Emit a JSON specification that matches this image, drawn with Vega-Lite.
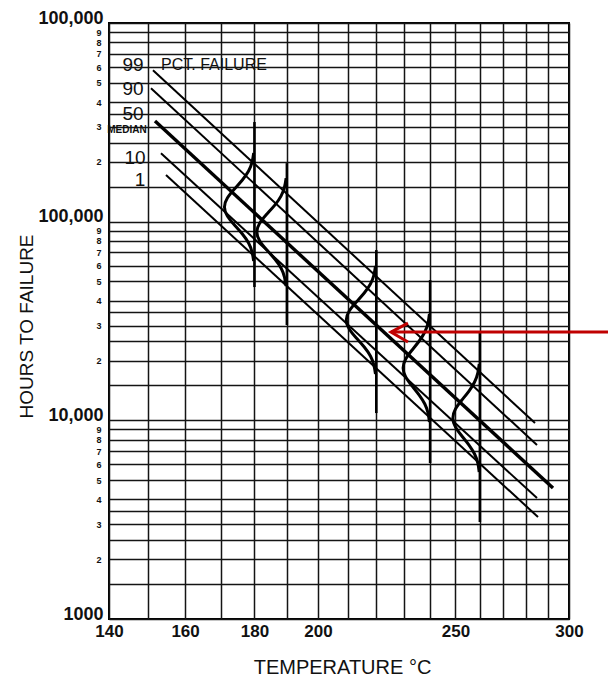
{
  "$schema": "https://vega.github.io/schema/vega-lite/v6.json",
  "width": 460,
  "height": 596,
  "autosize": {"type": "none"},
  "padding": {"left": 109, "top": 23, "right": 39, "bottom": 58},
  "background": "white",
  "config": {"view": {"stroke": "#000", "strokeWidth": 2}, "font": "Liberation Sans"},
  "datasets": {
    "pct": [
      {"series": "99", "tempK": 424.48, "hours": 579000}, {"series": "99", "tempK": 557.20, "hours": 9690},
      {"series": "90", "tempK": 423.95, "hours": 470000}, {"series": "90", "tempK": 558.11, "hours": 7510},
      {"series": "50", "tempK": 425.01, "hours": 321000}, {"series": "50", "tempK": 565.53, "hours": 4560},
      {"series": "10", "tempK": 426.61, "hours": 221000}, {"series": "10", "tempK": 558.11, "hours": 4060},
      {"series": "1", "tempK": 427.95, "hours": 171600}, {"series": "1", "tempK": 558.57, "hours": 3260}
    ],
    "bells": [
      {"bell": "180", "i": 0, "tempK": 452.91, "hours": 221430},
      {"bell": "180", "i": 1, "tempK": 452.43, "hours": 199500},
      {"bell": "180", "i": 2, "tempK": 451.38, "hours": 179750},
      {"bell": "180", "i": 3, "tempK": 449.53, "hours": 161950},
      {"bell": "180", "i": 4, "tempK": 447.20, "hours": 145900},
      {"bell": "180", "i": 5, "tempK": 445.12, "hours": 131450},
      {"bell": "180", "i": 6, "tempK": 444.28, "hours": 118440},
      {"bell": "180", "i": 7, "tempK": 445.12, "hours": 106710},
      {"bell": "180", "i": 8, "tempK": 447.20, "hours": 96150},
      {"bell": "180", "i": 9, "tempK": 449.53, "hours": 86630},
      {"bell": "180", "i": 10, "tempK": 451.38, "hours": 78040},
      {"bell": "180", "i": 11, "tempK": 452.43, "hours": 70320},
      {"bell": "180", "i": 12, "tempK": 452.91, "hours": 63350},
      {"bell": "190", "i": 0, "tempK": 462.90, "hours": 165690},
      {"bell": "190", "i": 1, "tempK": 462.39, "hours": 149290},
      {"bell": "190", "i": 2, "tempK": 461.30, "hours": 134500},
      {"bell": "190", "i": 3, "tempK": 459.37, "hours": 121180},
      {"bell": "190", "i": 4, "tempK": 456.93, "hours": 109180},
      {"bell": "190", "i": 5, "tempK": 454.76, "hours": 98370},
      {"bell": "190", "i": 6, "tempK": 453.88, "hours": 88630},
      {"bell": "190", "i": 7, "tempK": 454.76, "hours": 79860},
      {"bell": "190", "i": 8, "tempK": 456.93, "hours": 71950},
      {"bell": "190", "i": 9, "tempK": 459.37, "hours": 64820},
      {"bell": "190", "i": 10, "tempK": 461.30, "hours": 58400},
      {"bell": "190", "i": 11, "tempK": 462.39, "hours": 52620},
      {"bell": "190", "i": 12, "tempK": 462.90, "hours": 47410},
      {"bell": "220", "i": 0, "tempK": 492.86, "hours": 59770},
      {"bell": "220", "i": 1, "tempK": 492.29, "hours": 53850},
      {"bell": "220", "i": 2, "tempK": 491.05, "hours": 48520},
      {"bell": "220", "i": 3, "tempK": 488.87, "hours": 43710},
      {"bell": "220", "i": 4, "tempK": 486.11, "hours": 39380},
      {"bell": "220", "i": 5, "tempK": 483.66, "hours": 35480},
      {"bell": "220", "i": 6, "tempK": 482.66, "hours": 31970},
      {"bell": "220", "i": 7, "tempK": 483.66, "hours": 28800},
      {"bell": "220", "i": 8, "tempK": 486.11, "hours": 25950},
      {"bell": "220", "i": 9, "tempK": 488.87, "hours": 23380},
      {"bell": "220", "i": 10, "tempK": 491.05, "hours": 21070},
      {"bell": "220", "i": 11, "tempK": 492.29, "hours": 18980},
      {"bell": "220", "i": 12, "tempK": 492.86, "hours": 17100},
      {"bell": "240", "i": 0, "tempK": 512.88, "hours": 34290},
      {"bell": "240", "i": 1, "tempK": 512.34, "hours": 30890},
      {"bell": "240", "i": 2, "tempK": 511.11, "hours": 27830},
      {"bell": "240", "i": 3, "tempK": 508.97, "hours": 25080},
      {"bell": "240", "i": 4, "tempK": 506.28, "hours": 22590},
      {"bell": "240", "i": 5, "tempK": 503.88, "hours": 20360},
      {"bell": "240", "i": 6, "tempK": 502.91, "hours": 18340},
      {"bell": "240", "i": 7, "tempK": 503.88, "hours": 16520},
      {"bell": "240", "i": 8, "tempK": 506.28, "hours": 14890},
      {"bell": "240", "i": 9, "tempK": 508.97, "hours": 13410},
      {"bell": "240", "i": 10, "tempK": 511.11, "hours": 12080},
      {"bell": "240", "i": 11, "tempK": 512.34, "hours": 10890},
      {"bell": "240", "i": 12, "tempK": 512.88, "hours": 9810},
      {"bell": "260", "i": 0, "tempK": 532.86, "hours": 19200},
      {"bell": "260", "i": 1, "tempK": 532.27, "hours": 17300},
      {"bell": "260", "i": 2, "tempK": 530.94, "hours": 15590},
      {"bell": "260", "i": 3, "tempK": 528.64, "hours": 14040},
      {"bell": "260", "i": 4, "tempK": 525.74, "hours": 12650},
      {"bell": "260", "i": 5, "tempK": 523.15, "hours": 11400},
      {"bell": "260", "i": 6, "tempK": 522.11, "hours": 10270},
      {"bell": "260", "i": 7, "tempK": 523.15, "hours": 9253},
      {"bell": "260", "i": 8, "tempK": 525.74, "hours": 8337},
      {"bell": "260", "i": 9, "tempK": 528.64, "hours": 7511},
      {"bell": "260", "i": 10, "tempK": 530.94, "hours": 6767},
      {"bell": "260", "i": 11, "tempK": 532.27, "hours": 6097},
      {"bell": "260", "i": 12, "tempK": 532.86, "hours": 5493}
    ],
    "vlines": [
      {"bell": "180", "tempK": 453.15, "hours": 317200, "hours2": 46870},
      {"bell": "190", "tempK": 463.15, "hours": 197100, "hours2": 30170},
      {"bell": "220", "tempK": 493.15, "hours": 71940, "hours2": 10880},
      {"bell": "240", "tempK": 513.15, "hours": 50830, "hours2": 6097},
      {"bell": "260", "tempK": 533.15, "hours": 27820, "hours2": 3077}
    ],
    "labels": [
      {"text": "99", "tempK": 419.26, "hours": 614000},
      {"text": "90", "tempK": 419.26, "hours": 464900},
      {"text": "50", "tempK": 419.26, "hours": 347900},
      {"text": "10", "tempK": 419.77, "hours": 209000},
      {"text": "1", "tempK": 421.07, "hours": 162000}
    ],
    "pctlabel": [{"text": "PCT. FAILURE", "tempK": 441.27, "hours": 614000}],
    "median": [{"text": "MEDIAN", "tempK": 417.71, "hours": 289100}],
    "arrow": [
      {"part": "shaft", "i": 0, "tempK": 592.6, "hours": 27820},
      {"part": "shaft", "i": 1, "tempK": 498.45, "hours": 27820},
      {"part": "head", "i": 0, "tempK": 504.73, "hours": 30870},
      {"part": "head", "i": 1, "tempK": 498.45, "hours": 27820},
      {"part": "head", "i": 2, "tempK": 504.73, "hours": 24790}
    ]
  },
  "encoding": {
    "x": {
      "field": "tempK",
      "type": "quantitative",
      "scale": {"type": "pow", "exponent": -1, "domain": [413.15, 573.15], "nice": false, "zero": false},
      "axis": {
        "values": [413.15, 423.15, 433.15, 443.15, 453.15, 463.15, 473.15, 483.15, 493.15, 503.15, 513.15, 523.15, 533.15, 543.15, 553.15, 563.15, 573.15],
        "labelExpr": "indexof([140,160,180,200,250,300], round(datum.value - 273.15)) >= 0 ? format(round(datum.value - 273.15), 'd') : ''",
        "grid": true,
        "gridColor": "#141414",
        "gridWidth": 1.5,
        "ticks": false,
        "domain": false,
        "labelFlush": false,
        "labelOverlap": false,
        "labelFont": "Liberation Sans",
        "labelFontWeight": "bold",
        "labelFontSize": 17,
        "labelColor": "#111",
        "labelPadding": 4,
        "title": "TEMPERATURE °C",
        "titleFont": "Liberation Sans",
        "titleFontSize": 20,
        "titleFontWeight": "normal",
        "titleColor": "#111",
        "titleX": 233,
        "titleY": 54,
        "titleAlign": "center",
        "titleBaseline": "alphabetic"
      }
    },
    "y": {
      "field": "hours",
      "type": "quantitative",
      "scale": {"type": "log", "domain": [1000, 1000000], "nice": false},
      "axis": {
        "values": [1000, 1500, 2000, 2500, 3000, 3500, 4000, 5000, 6000, 7000, 8000, 9000, 10000, 15000, 20000, 25000, 30000, 35000, 40000, 50000, 60000, 70000, 80000, 90000, 100000, 150000, 200000, 250000, 300000, 350000, 400000, 500000, 600000, 700000, 800000, 900000, 1000000],
        "labelExpr": "(datum.value == 1000000 || datum.value == 100000) ? '100,000' : datum.value == 10000 ? '10,000' : datum.value == 1000 ? '1000' : ((datum.value / pow(10, floor(log(datum.value) / LN10 + 1e-9))) % 1 == 0 ? format(datum.value / pow(10, floor(log(datum.value) / LN10 + 1e-9)), 'd') : '')",
        "grid": true,
        "gridColor": "#141414",
        "gridWidth": 1.5,
        "ticks": false,
        "domain": false,
        "labelFlush": false,
        "labelOverlap": false,
        "labelFont": "Liberation Sans",
        "labelFontWeight": "bold",
        "labelColor": "#111",
        "labelFontSize": {"condition": {"test": "datum.value == 1000 || datum.value == 10000 || datum.value == 100000 || datum.value == 1000000", "value": 18}, "value": 9},
        "labelBaseline": {"condition": {"test": "datum.value == 1000 || datum.value == 10000 || datum.value == 100000 || datum.value == 1000000", "value": "alphabetic"}, "value": "middle"},
        "labelPadding": {"condition": {"test": "datum.value == 1000 || datum.value == 10000 || datum.value == 100000 || datum.value == 1000000", "value": 6}, "value": 8},
        "title": "HOURS TO FAILURE",
        "titleFont": "Liberation Sans",
        "titleFontSize": 19,
        "titleFontWeight": "normal",
        "titleColor": "#111",
        "titleX": -77,
        "titleY": 303,
        "titleAlign": "center",
        "titleBaseline": "alphabetic",
        "titleAngle": -90
      }
    }
  },
  "layer": [
    {
      "data": {"name": "pct"},
      "transform": [{"filter": "datum.series != '50'"}],
      "mark": {"type": "line", "color": "#000", "strokeWidth": 2},
      "encoding": {"detail": {"field": "series"}}
    },
    {
      "data": {"name": "pct"},
      "transform": [{"filter": "datum.series == '50'"}],
      "mark": {"type": "line", "color": "#000", "strokeWidth": 3.4},
      "encoding": {"detail": {"field": "series"}}
    },
    {
      "data": {"name": "bells"},
      "mark": {"type": "line", "color": "#000", "strokeWidth": 3, "interpolate": "natural"},
      "encoding": {"detail": {"field": "bell"}, "order": {"field": "i", "type": "quantitative"}}
    },
    {
      "data": {"name": "vlines"},
      "mark": {"type": "rule", "color": "#000", "strokeWidth": 2.6},
      "encoding": {"y2": {"field": "hours2"}}
    },
    {
      "data": {"name": "labels"},
      "mark": {"type": "text", "font": "Liberation Sans", "fontSize": 19, "align": "center", "baseline": "middle", "color": "#111"},
      "encoding": {"text": {"field": "text"}}
    },
    {
      "data": {"name": "pctlabel"},
      "mark": {"type": "text", "font": "Liberation Sans", "fontSize": 16, "align": "center", "baseline": "middle", "color": "#111"},
      "encoding": {"text": {"field": "text"}}
    },
    {
      "data": {"name": "median"},
      "mark": {"type": "text", "font": "Liberation Sans", "fontSize": 10, "fontWeight": "bold", "align": "center", "baseline": "middle", "color": "#111"},
      "encoding": {"text": {"field": "text"}}
    },
    {
      "data": {"name": "arrow"},
      "mark": {"type": "line", "color": "#c00000", "strokeWidth": 3},
      "encoding": {"detail": {"field": "part"}, "order": {"field": "i", "type": "quantitative"}}
    }
  ]
}
